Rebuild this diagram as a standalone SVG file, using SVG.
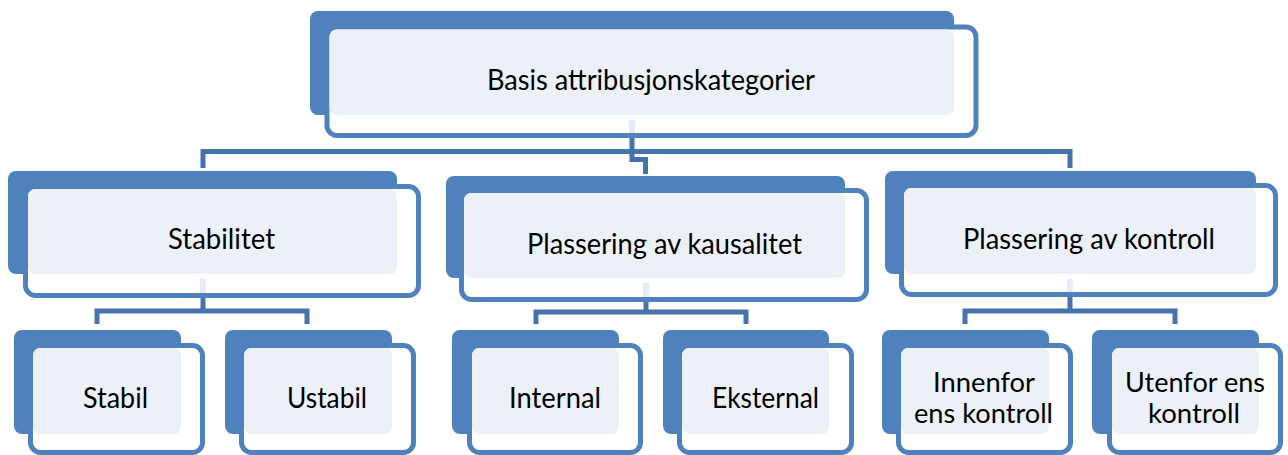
<svg xmlns="http://www.w3.org/2000/svg" width="1288" height="455" viewBox="0 0 1288 455">
<style>
.back{fill:#4F81BD}
.front{fill:#FFFFFF;stroke:#4F81BD;stroke-width:5}
.light{fill:#ECF1F8}
.conn{fill:none;stroke:#4673AC;stroke-width:5}
.faint{fill:none;stroke:#E6ECF5;stroke-width:6}
text{font-family:Lato,"Open Sans","Liberation Sans",sans-serif;font-size:29px;fill:#000;text-anchor:middle}
text.two{font-size:27px}
</style>
<rect width="1288" height="455" fill="#FFFFFF"/>
<g id="node-top">
<rect class="back" x="310" y="11" width="644" height="104" rx="8"/>
<rect class="front" x="327" y="27" width="649" height="108.5" rx="10"/>
<rect class="light" x="329.5" y="29.5" width="624.5" height="85.5" rx="7"/>
<text x="651" y="90" textLength="328" lengthAdjust="spacingAndGlyphs">Basis attribusjonskategorier</text>
</g>
<g id="node-stabilitet">
<rect class="back" x="8" y="171" width="389" height="103" rx="8"/>
<rect class="front" x="25.5" y="186.5" width="393" height="109" rx="10"/>
<rect class="light" x="28" y="189" width="369" height="85" rx="7"/>
<text x="221.5" y="249" textLength="107" lengthAdjust="spacingAndGlyphs">Stabilitet</text>
</g>
<g id="node-kausalitet">
<rect class="back" x="446" y="176" width="399" height="102" rx="8"/>
<rect class="front" x="461.5" y="190.5" width="405" height="109" rx="10"/>
<rect class="light" x="464" y="193" width="381" height="85" rx="7"/>
<text x="664.5" y="254" textLength="275" lengthAdjust="spacingAndGlyphs">Plassering av kausalitet</text>
</g>
<g id="node-kontroll">
<rect class="back" x="885" y="171" width="371" height="103" rx="8"/>
<rect class="front" x="901.5" y="185.5" width="374" height="109" rx="10"/>
<rect class="light" x="904" y="188" width="352" height="86" rx="7"/>
<text x="1089" y="249" textLength="252" lengthAdjust="spacingAndGlyphs">Plassering av kontroll</text>
</g>
<g id="node-stabil">
<rect class="back" x="14" y="330" width="167" height="104" rx="8"/>
<rect class="front" x="30.5" y="345.5" width="172" height="107" rx="10"/>
<rect class="light" x="33" y="348" width="148" height="86" rx="7"/>
<text x="115.5" y="408" textLength="65" lengthAdjust="spacingAndGlyphs">Stabil</text>
</g>
<g id="node-ustabil">
<rect class="back" x="225" y="330" width="167" height="104" rx="8"/>
<rect class="front" x="241.5" y="345.5" width="172" height="107" rx="10"/>
<rect class="light" x="244" y="348" width="148" height="86" rx="7"/>
<text x="327" y="408" textLength="80" lengthAdjust="spacingAndGlyphs">Ustabil</text>
</g>
<g id="node-internal">
<rect class="back" x="452" y="330" width="167" height="104" rx="8"/>
<rect class="front" x="469.5" y="345.5" width="171" height="107" rx="10"/>
<rect class="light" x="472" y="348" width="147" height="86" rx="7"/>
<text x="555" y="408" textLength="92" lengthAdjust="spacingAndGlyphs">Internal</text>
</g>
<g id="node-eksternal">
<rect class="back" x="663" y="330" width="166" height="104" rx="8"/>
<rect class="front" x="679.5" y="345.5" width="172" height="107" rx="10"/>
<rect class="light" x="682" y="348" width="147" height="86" rx="7"/>
<text x="765.5" y="408" textLength="107" lengthAdjust="spacingAndGlyphs">Eksternal</text>
</g>
<g id="node-innenfor">
<rect class="back" x="882" y="330" width="167" height="104" rx="8"/>
<rect class="front" x="898.5" y="345.5" width="172" height="107" rx="10"/>
<rect class="light" x="901" y="348" width="148" height="86" rx="7"/>
<text class="two" x="984" y="392" textLength="102" lengthAdjust="spacingAndGlyphs">Innenfor</text>
<text class="two" x="983.5" y="423" textLength="139" lengthAdjust="spacingAndGlyphs">ens kontroll</text>
</g>
<g id="node-utenfor">
<rect class="back" x="1092" y="330" width="167" height="104" rx="8"/>
<rect class="front" x="1109.5" y="345.5" width="171" height="107" rx="10"/>
<rect class="light" x="1112" y="348" width="147" height="86" rx="7"/>
<text class="two" x="1195" y="392" textLength="140" lengthAdjust="spacingAndGlyphs">Utenfor ens</text>
<text class="two" x="1194" y="423" textLength="92" lengthAdjust="spacingAndGlyphs">kontroll</text>
</g>
<g id="connectors">
<path class="faint" d="M632,120V133M203,279V293M646,283V297M1070,279V292"/>
<path class="conn" d="M632,138V151.5"/>
<path class="conn" d="M203,168V151.5H1070V168"/>
<path class="conn" d="M632,151.5V159.5H645.5V174"/>
<path class="conn" d="M203,298V311"/>
<path class="conn" d="M97,324V311H307V324"/>
<path class="conn" d="M646,302V312"/>
<path class="conn" d="M536,324V312H746V324"/>
<path class="conn" d="M1070,297V311"/>
<path class="conn" d="M965,324V311H1175V324"/>
</g>
</svg>
